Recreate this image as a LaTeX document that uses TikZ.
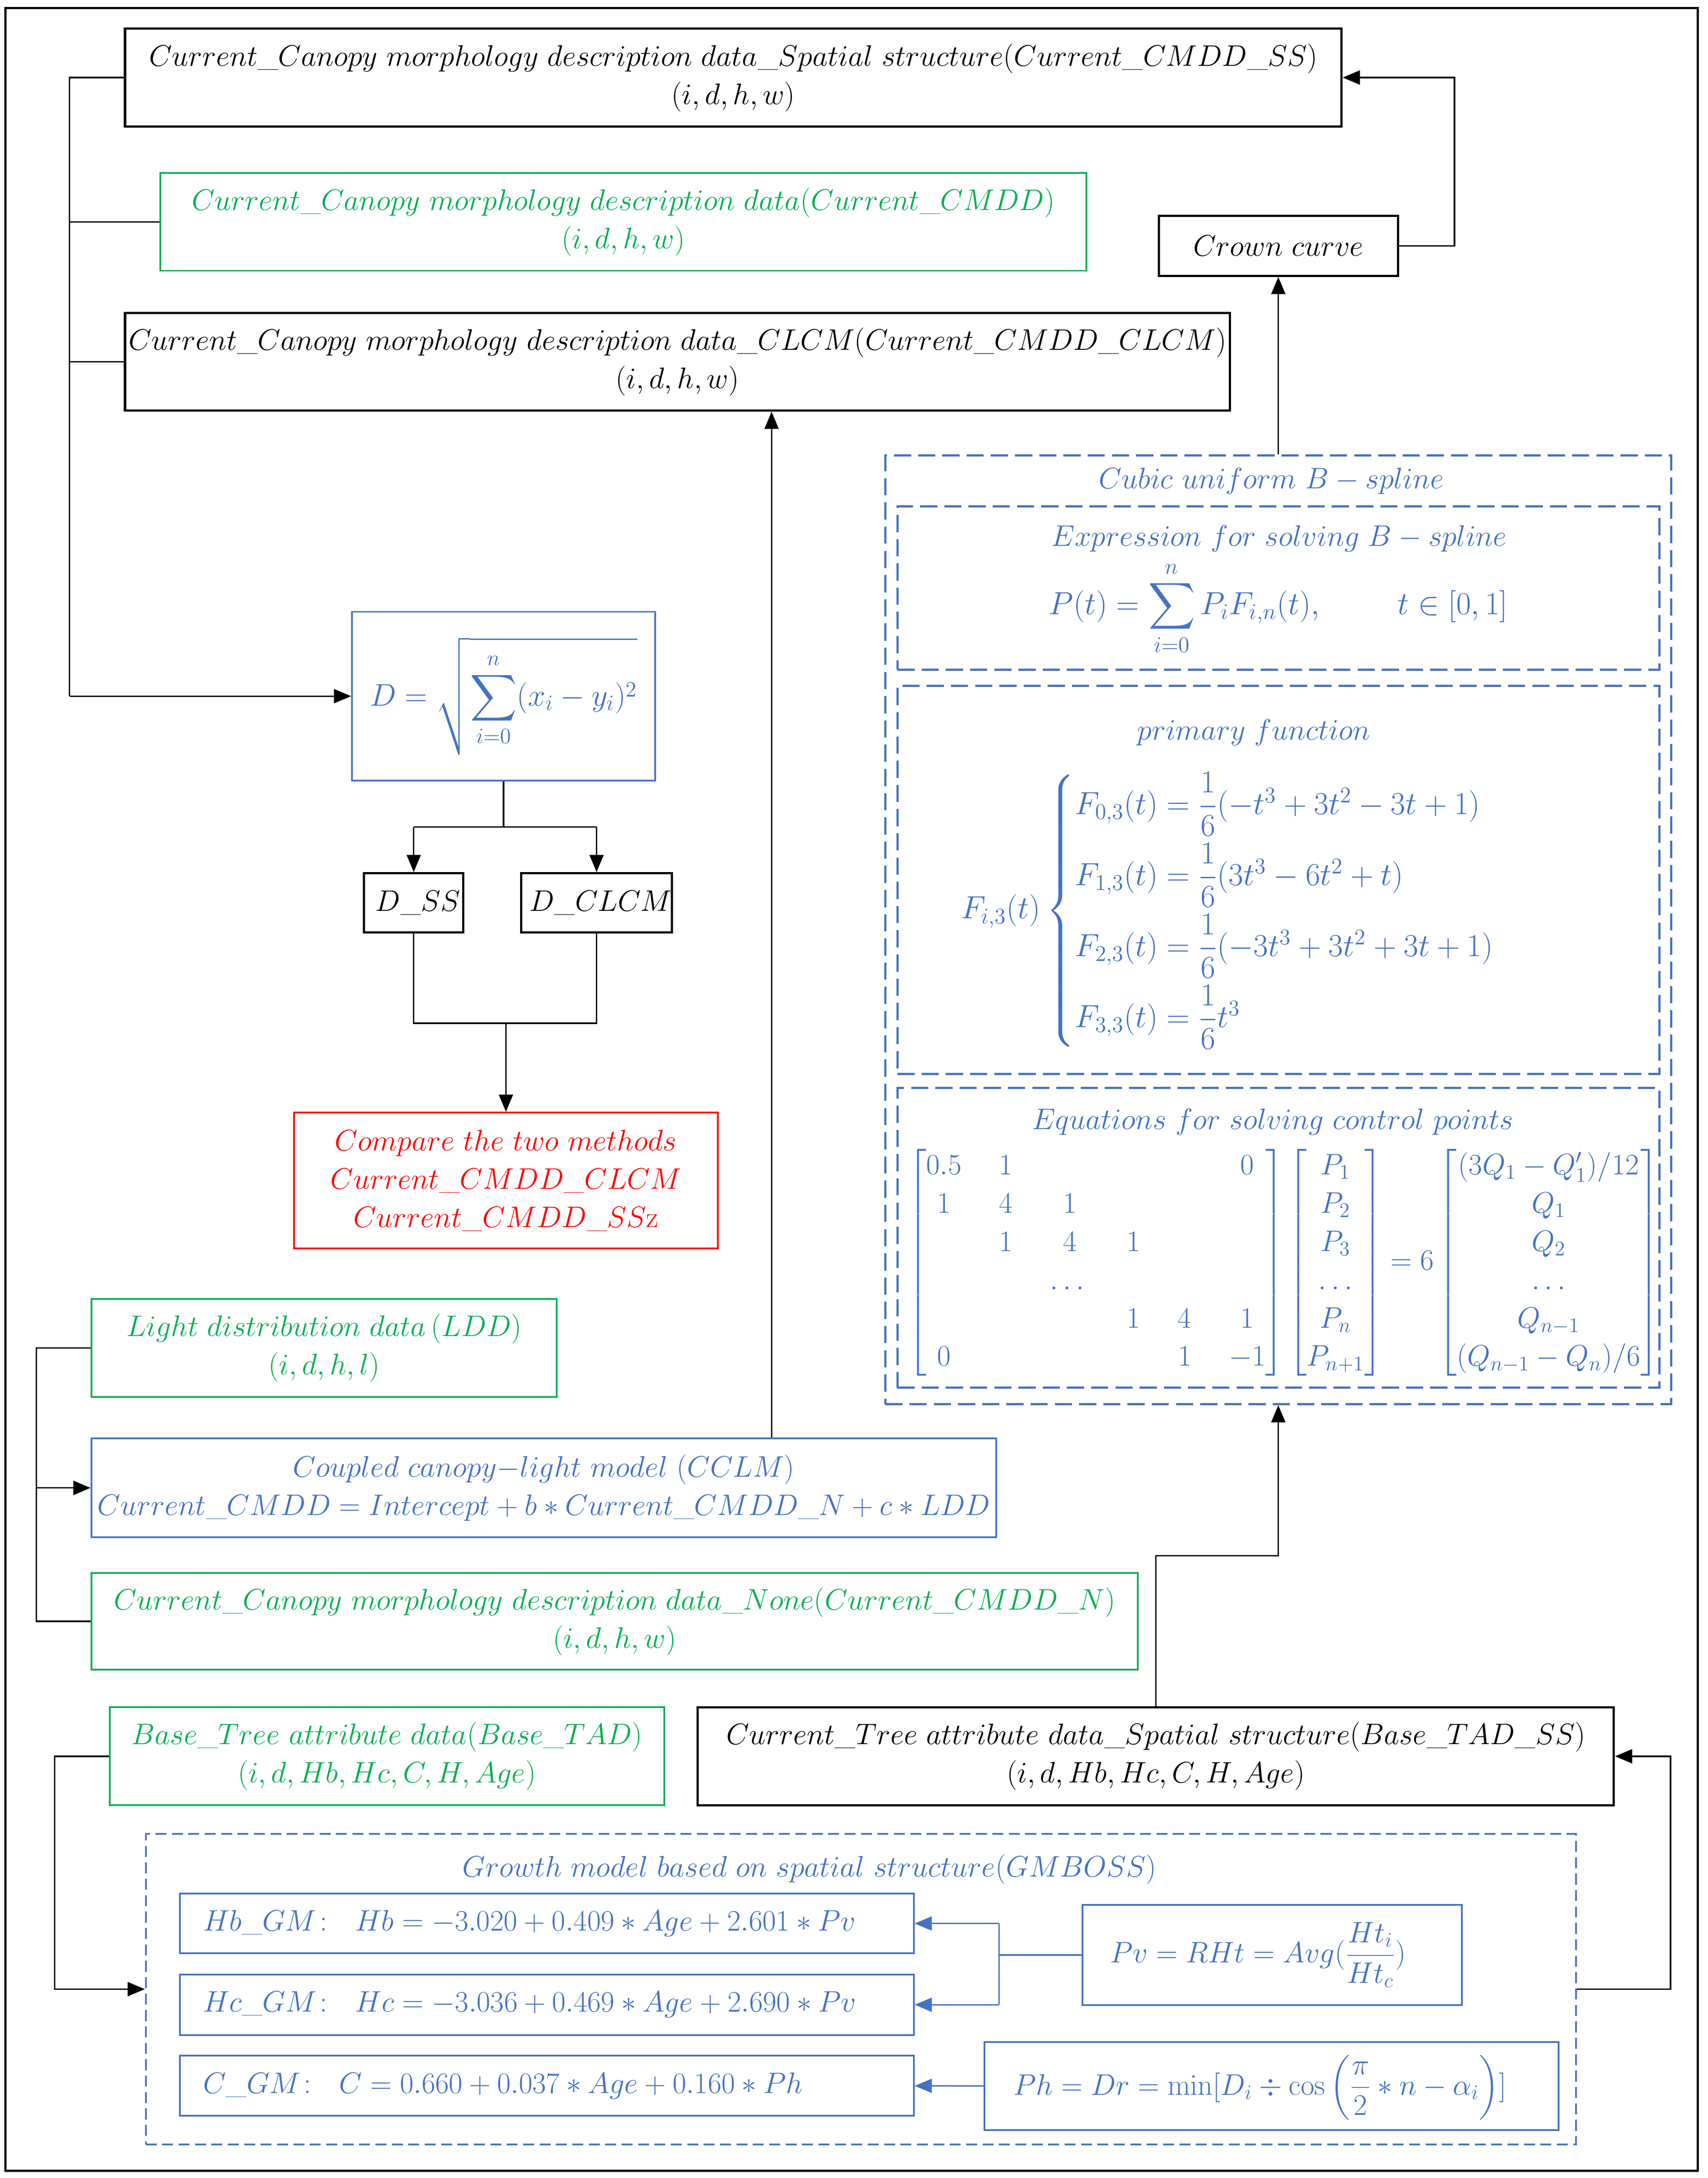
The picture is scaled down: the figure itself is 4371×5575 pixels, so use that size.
\RequirePackage{fix-cm}
\documentclass[tikz,border=0pt]{standalone}
\usepackage{amsmath}
\usetikzlibrary{arrows.meta}
\definecolor{cblue}{HTML}{4472C4}
\definecolor{cgreen}{HTML}{00B050}
\definecolor{cred}{HTML}{FF0000}
\newcommand\fsz{\fontsize{19}{24.5}\selectfont}
\newcommand\fbig{\fontsize{20.5}{26}\selectfont}
\tikzset{
  every node/.style={font=\fsz, inner sep=0pt, align=center},
  bx/.style n args={2}{minimum width={#1*0.25pt}, minimum height={#2*0.25pt}},
  kbox/.style={draw=black, line width=1.4pt, text=black},
  gbox/.style={draw=cgreen, line width=1.1pt, text=cgreen},
  bbox/.style={draw=cblue, line width=1.1pt, text=cblue},
  rbox/.style={draw=cred, line width=1.1pt, text=cred},
  bdash/.style={draw=cblue, line width=1.4pt, dash pattern=on 11pt off 4.5pt},
  gdash/.style={draw=cblue, line width=1.1pt, dash pattern=on 7pt off 3.5pt},
  conn/.style={draw=black, line width=0.9pt},
  arr/.style={conn, -{Triangle[length=11pt,width=9pt]}},
  bconn/.style={draw=cblue, line width=0.9pt},
  barr/.style={bconn, -{Triangle[length=11pt,width=9pt]}},
  btxt/.style={text=cblue},
}
\begin{document}
\begin{tikzpicture}[x=0.25pt,y=-0.25pt]
\useasboundingbox (0,0) rectangle (4371,5575);
\node[draw=black, line width=1.4pt, bx={4332}{5536}] (frame) at (2180,2789) {};

% top black / green boxes
\node[kbox, bx={3114}{251}] (ss) at (1877,198.5) {$Current\_Canopy\ morphology\ description\ data\_Spatial\ structure(Current\_CMDD\_SS)$\\$(i,d,h,w)$};
\node[gbox, bx={2371}{250}] (cmdd) at (1595.5,568) {$Current\_Canopy\ morphology\ description\ data(Current\_CMDD)$\\$(i,d,h,w)$};
\node[kbox, bx={2828}{250}] (clcm) at (1734,926) {$Current\_Canopy\ morphology\ description\ data\_CLCM(Current\_CMDD\_CLCM)$\\$(i,d,h,w)$};
\node[kbox, bx={612}{153}] (crown) at (3272,629.5) {$Crown\ curve$};

% distance
\node[bbox, bx={776}{432}, font=\fontsize{20}{25}\selectfont] (dbox) at (1289,1782) {$\displaystyle D=\sqrt{\sum_{i=0}^{n}(x_i-y_i)^2}$};
\node[kbox, bx={254}{152}] (dss) at (1059,2311) {$\;D\_SS$};
\node[kbox, bx={374}{152}] (dclcm) at (1527,2311) {$\;D\_CLCM$};
\node[rbox, bx={1084}{348}] (red) at (1295,3022) {$Compare\ the\ two\ methods$\\$Current\_CMDD\_CLCM$\\$Current\_CMDD\_SS\mathrm{z}$};

% light model
\node[gbox, bx={1191}{251}] (ldd) at (829.5,3450.5) {$Light\ distribution\ data\,(LDD)$\\$(i,d,h,l)$};
\node[bbox, bx={2316}{253}] (cclm) at (1392,3808.5) {$Coupled\ canopy{-}light\ model\ (CCLM)$\\$Current\_CMDD=Intercept+b\ast Current\_CMDD\_N+c\ast LDD$};
\node[gbox, bx={2678}{248}] (cmddn) at (1573,4150) {$Current\_Canopy\ morphology\ description\ data\_None(Current\_CMDD\_N)$\\$(i,d,h,w)$};

% tree attribute
\node[gbox, bx={1419}{251}] (btad) at (990.5,4495.5) {$Base\_Tree\ attribute\ data(Base\_TAD)$\\$(i,d,Hb,Hc,C,H,Age)$};
\node[kbox, bx={2345}{251}] (ctad) at (2958.5,4495.5) {$Current\_Tree\ attribute\ data\_Spatial\ structure(Base\_TAD\_SS)$\\$(i,d,Hb,Hc,C,H,Age)$};

% growth model
\node[gdash, bx={3661}{795}] (gm) at (2203.5,5091.5) {};
\node[btxt] (gmt) at (2072,4785) {$Growth\ model\ based\ on\ spatial\ structure(GMBOSS)$};
\node[bbox, bx={1879}{153}] (hb) at (1399.5,4923.5) {};
\node[bbox, bx={1879}{155}] (hc) at (1399.5,5131.5) {};
\node[bbox, bx={1879}{154}] (cg) at (1399.5,5339) {};
\node[btxt, anchor=west] (hbt) at (519,4923.5) {$Hb\_GM\colon\ \ Hb=-3.020+0.409\ast Age+2.601\ast Pv$};
\node[btxt, anchor=west] (hct) at (519,5131.5) {$Hc\_GM\colon\ \ Hc=-3.036+0.469\ast Age+2.690\ast Pv$};
\node[btxt, anchor=west] (cgt) at (519,5339) {$C\_GM\colon\ \ C=0.660+0.037\ast Age+0.160\ast Ph$};
\node[bbox, bx={971}{256}] (pv) at (3256.5,5004) {};
\node[btxt] (pvt) at (3220,5004) {$\displaystyle Pv=RHt=Avg(\frac{Ht_i}{Ht_c})$};
\node[bbox, bx={1469}{225}] (ph) at (3254.5,5339.5) {};
\node[btxt] (pht) at (3225,5343) {$\displaystyle Ph=Dr=\min[D_i\div\cos\left(\frac{\pi}{2}\ast n-\alpha_i\right)]$};

% cubic B-spline
\node[bdash, bx={2012}{2428}] (cub) at (3272,2380) {};
\node[bdash, bx={1950}{418}] (expr) at (3272,1505) {};
\node[bdash, bx={1950}{993}] (prim) at (3272,2252.5) {};
\node[bdash, bx={1950}{767}] (eqs) at (3272,3168.5) {};
\node[btxt] (cubt) at (3254,1232) {$Cubic\ uniform\ B-spline$};
\node[btxt] (exprt) at (3274,1379) {$Expression\ for\ solving\ B-spline$};
\node[btxt, font=\fbig] (exprf) at (3272,1557) {$\displaystyle P(t)=\sum_{i=0}^{n}P_iF_{i,n}(t),\qquad\; t\in[0,1]$};
\node[btxt] (primt) at (3209,1875) {$primary\ function$};
\node[btxt, anchor=west, font=\fbig] (primf) at (2459,2331) {$\displaystyle F_{i,3}(t)\begin{cases}
F_{0,3}(t)=\dfrac{1}{6}(-t^3+3t^2-3t+1)\\[9pt]
F_{1,3}(t)=\dfrac{1}{6}(3t^3-6t^2+t)\\[9pt]
F_{2,3}(t)=\dfrac{1}{6}(-3t^3+3t^2+3t+1)\\[9pt]
F_{3,3}(t)=\dfrac{1}{6}t^3
\end{cases}$};
\node[btxt] (eqst) at (3258,2872) {$Equations\ for\ solving\ control\ points$};
\node[btxt] (eqsf) at (3285,3232) {$\setlength\arraycolsep{12pt}\begin{bmatrix}0.5&1&&&&0\\1&4&1&&&\\&1&4&1&&\\&&\dots&&&\\&&&1&4&1\\0&&&&1&-1\end{bmatrix}\setlength\arraycolsep{4pt}\begin{bmatrix}P_1\\P_2\\P_3\\\dots\\P_n\\P_{n+1}\end{bmatrix}=6\begin{bmatrix}(3Q_1-Q_1')/12\\Q_1\\Q_2\\\dots\\Q_{n-1}\\(Q_{n-1}-Q_n)/6\end{bmatrix}$};

% helper coordinates
\coordinate (busL) at (178,0);
\coordinate (busR) at (3723,0);
\coordinate (cx1) at (1975,0);
\coordinate (jy1) at (0,2117);
\coordinate (jy2) at (0,2619);
\coordinate (busL2) at (93,0);
\coordinate (busL3) at (140,0);
\coordinate (busR2) at (4276,0);
\coordinate (jy3) at (0,3982);
\coordinate (bxv) at (2557,0);

% connectors
\draw[conn] (ss.west) -- (ss.west -| busL) -- (busL |- dbox.west);
\draw[arr] (busL |- dbox.west) -- (dbox.west);
\draw[conn] (cmdd.west) -- (cmdd.west -| busL);
\draw[conn] (clcm.west) -- (clcm.west -| busL);
\draw[arr] (crown.east) -- (crown.east -| busR) -- (busR |- ss.east) -- (ss.east);
\draw[arr] (cub.north) -- (crown.south);
\draw[arr] (cclm.north -| cx1) -- (clcm.south -| cx1);
\draw[conn] (dbox.south) -- (dbox.south |- jy1);
\draw[conn] (dss.north |- jy1) -- (dclcm.north |- jy1);
\draw[arr] (dss.north |- jy1) -- (dss.north);
\draw[arr] (dclcm.north |- jy1) -- (dclcm.north);
\draw[conn] (dss.south) -- (dss.south |- jy2) -- (dclcm.south |- jy2) -- (dclcm.south);
\draw[arr] (red.north |- jy2) -- (red.north);
\draw[conn] (ldd.west) -- (ldd.west -| busL2) -- (busL2 |- cmddn.west) -- (cmddn.west);
\draw[arr] (busL2 |- cclm.west) -- (cclm.west);
\draw[arr] (btad.west) -- (btad.west -| busL3) -- (busL3 |- gm.west) -- (gm.west);
\draw[arr] (gm.east) -- (gm.east -| busR2) -- (busR2 |- ctad.east) -- (ctad.east);
\draw[arr] (ctad.north) -- (ctad.north |- jy3) -- (cub.south |- jy3) -- (cub.south);
\draw[bconn] (pv.west) -- (pv.west -| bxv);
\draw[bconn] (bxv |- hb.east) -- (bxv |- hc.east);
\draw[barr] (bxv |- hb.east) -- (hb.east);
\draw[barr] (bxv |- hc.east) -- (hc.east);
\draw[barr] (ph.west) -- (cg.east);
\end{tikzpicture}
\end{document}
